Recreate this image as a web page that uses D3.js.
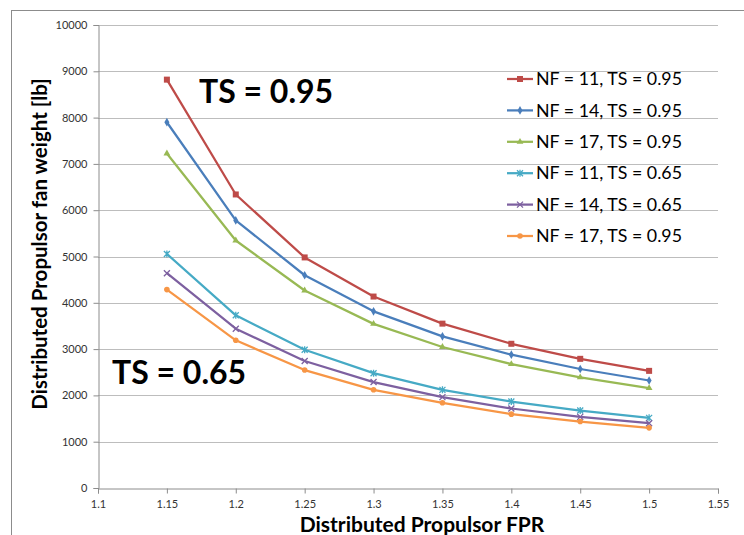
<!DOCTYPE html>
<html><head><meta charset="utf-8">
<script src="https://cdn.jsdelivr.net/npm/d3@7"></script>
<style>body{margin:0;background:#fff}svg{display:block}</style>
</head><body>
<script>
const fpr = [1.15, 1.2, 1.25, 1.3, 1.35, 1.4, 1.45, 1.5];
const nf11ts95 = [8820, 6340, 4980, 4135, 3550, 3115, 2790, 2530];
const nf14ts95 = [7900, 5780, 4595, 3815, 3275, 2880, 2570, 2322];
const nf17ts95 = [7225, 5345, 4265, 3545, 3045, 2677, 2390, 2158];
const nf11ts65 = [5055, 3730, 2985, 2480, 2120, 1868, 1673, 1515];
const nf14ts65 = [4640, 3440, 2742, 2288, 1963, 1717, 1537, 1400];
const nf17ts65 = [4285, 3190, 2547, 2121, 1840, 1595, 1435, 1299];
const seriesNames = ["NF = 11, TS = 0.95","NF = 14, TS = 0.95","NF = 17, TS = 0.95","NF = 11, TS = 0.65","NF = 14, TS = 0.65","NF = 17, TS = 0.95"];
const xTicks = [1.1,1.15,1.2,1.25,1.3,1.35,1.4,1.45,1.5,1.55];
const yTicks = [0,1000,2000,3000,4000,5000,6000,7000,8000,9000,10000];
const annotations = ["TS = 0.95","TS = 0.65"];

const colors = ["#BE4B48","#4A7EBB","#98B954","#46AAC5","#7D60A0","#F79646"];
const markers = ["square","diamond","triangle","star","cross","circle"];
const series = [nf11ts95,nf14ts95,nf17ts95,nf11ts65,nf14ts65,nf17ts65].map((v,i)=>({name:seriesNames[i],values:v,color:colors[i],marker:markers[i]}));

const W=744,H=535;
const svg=d3.select("body").append("svg").attr("width",W).attr("height",H);
const font="Lato, 'Open Sans', sans-serif";
// outer frame
svg.append("rect").attr("x",11.5).attr("y",10.5).attr("width",W).attr("height",H).attr("fill","none").attr("stroke","#8c8c8c").attr("stroke-width",1);

const x=d3.scaleLinear().domain([1.1,1.55]).range([98,718]);
const y=d3.scaleLinear().domain([0,10000]).range([488,25]);

// gridlines
svg.append("g").selectAll("line").data(yTicks.filter(d=>d>0)).join("line")
  .attr("x1",x(1.1)).attr("x2",x(1.55)).attr("y1",d=>Math.round(y(d))+0.5).attr("y2",d=>Math.round(y(d))+0.5)
  .attr("stroke","#bdbdbd").attr("stroke-width",1);

// axes
const xAx=svg.append("g").attr("transform",`translate(0,${Math.round(y(0))+0.5})`)
  .call(d3.axisBottom(x).tickValues(xTicks).tickFormat(d=>d3.format("")(+d.toFixed(2))).tickSize(5).tickPadding(5));
const yAx=svg.append("g").attr("transform",`translate(${Math.round(x(1.1))+0.5},0)`)
  .call(d3.axisLeft(y).tickValues(yTicks).tickFormat(d3.format("d")).tickSize(5).tickPadding(6));
[xAx,yAx].forEach(g=>{
  g.select(".domain").attr("stroke","#8c8c8c");
  g.selectAll(".tick line").attr("stroke","#8c8c8c");
  g.selectAll("text").attr("font-family",font).attr("font-size",11).attr("fill","#333");
});
xAx.selectAll("text").attr("dy","0.85em");

// lines
const line=d3.line().x((d,i)=>x(fpr[i])).y(d=>y(d));
series.forEach(s=>{
  svg.append("path").datum(s.values).attr("d",line).attr("fill","none").attr("stroke",s.color).attr("stroke-width",2.25).attr("stroke-linejoin","round");
});
function drawMarker(g,type,cx,cy,color){
  if(type==="square") g.append("rect").attr("x",cx-3).attr("y",cy-3).attr("width",6).attr("height",6).attr("fill",color);
  else if(type==="diamond") g.append("path").attr("d",d3.symbol(d3.symbolDiamond,22)()).attr("transform",`translate(${cx},${cy})`).attr("fill",color);
  else if(type==="triangle") g.append("path").attr("d",d3.symbol(d3.symbolTriangle,20)()).attr("transform",`translate(${cx},${cy})`).attr("fill",color);
  else if(type==="circle") g.append("circle").attr("cx",cx).attr("cy",cy).attr("r",2.8).attr("fill",color);
  else if(type==="star"){ g.append("path").attr("d",`M${cx-3},${cy-3}L${cx+3},${cy+3}M${cx-3},${cy+3}L${cx+3},${cy-3}M${cx},${cy-3.5}L${cx},${cy+3.5}`).attr("stroke",color).attr("stroke-width",1.3);}
  else if(type==="cross"){ g.append("path").attr("d",`M${cx-3},${cy-3}L${cx+3},${cy+3}M${cx-3},${cy+3}L${cx+3},${cy-3}`).attr("stroke",color).attr("stroke-width",1.3);}
}
series.forEach(s=>{
  const g=svg.append("g");
  s.values.forEach((v,i)=>drawMarker(g,s.marker,x(fpr[i]),y(v),s.color));
});

// legend
const lg=svg.append("g");
series.forEach((s,i)=>{
  const cy=79+i*31.4;
  lg.append("line").attr("x1",507).attr("x2",533).attr("y1",cy).attr("y2",cy).attr("stroke",s.color).attr("stroke-width",2.25);
  drawMarker(lg,s.marker,520,cy,s.color);
  lg.append("text").attr("x",536).attr("y",cy).attr("dy","0.35em").attr("font-family",font).attr("font-size",17.8).attr("fill","#000").text(s.name);
});

// annotations
svg.append("text").attr("x",199).attr("y",103).attr("font-family",font).attr("font-weight","bold").attr("font-size",32).attr("fill","#000").text(annotations[0]);
svg.append("text").attr("x",112).attr("y",384).attr("font-family",font).attr("font-weight","bold").attr("font-size",32).attr("fill","#000").text(annotations[1]);

// axis titles
svg.append("text").attr("x",422).attr("y",532).attr("text-anchor","middle").attr("font-family",font).attr("font-weight","bold").attr("font-size",21).attr("fill","#000").text("Distributed Propulsor FPR");
svg.append("text").attr("transform","translate(47,244) rotate(-90)").attr("text-anchor","middle").attr("font-family",font).attr("font-weight","bold").attr("font-size",20.5).attr("fill","#000").text("Distributed Propulsor fan weight [lb]");
</script>
</body></html>
